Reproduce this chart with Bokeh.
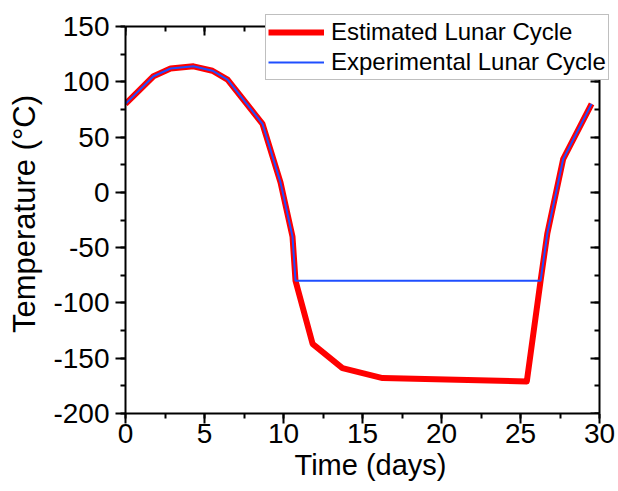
from bokeh.plotting import figure
from bokeh.models import (Range1d, LinearAxis, SingleIntervalTicker, Legend, LegendItem,
                          PrintfTickFormatter, CustomLabelingPolicy)
from bokeh.embed import file_html
from bokeh.resources import INLINE

# Data
est_time = [0, 1.77, 2.85, 4.3, 5.5, 6.46, 8.67, 9.81, 10.57, 10.76, 11.84, 13.73, 16.27, 25.4, 26.27, 26.7, 27.7, 29.5]
est_temp = [80, 105, 112, 114, 110, 102, 62, 9, -40, -80, -137, -159, -168, -171, -80, -37, 30, 80]
exp_time = [0, 1.77, 2.85, 4.3, 5.5, 6.46, 8.67, 9.81, 10.57, 10.76, 26.27, 26.7, 27.7, 29.5]
exp_temp = [80, 105, 112, 114, 110, 102, 62, 9, -40, -80, -80, -37, 30, 80]
series_names = ["Estimated Lunar Cycle", "Experimental Lunar Cycle"]
x_lo, x_hi = 0, 30
y_lo, y_hi = -200, 150

FONT = "Liberation Sans"

# frame is a little larger than the axes box so the legend may overhang it
x_end = x_hi * 490 / 474
y_end = y_lo + (y_hi - y_lo) * 399 / 387

p = figure(width=618, height=491, output_backend="svg", toolbar_location=None,
           x_range=Range1d(x_lo, x_end), y_range=Range1d(y_lo, y_end),
           min_border_left=125, min_border_right=3, min_border_top=14, min_border_bottom=78,
           x_axis_label="Time (days)", y_axis_label="Temperature (°C)")
p.xgrid.visible = False
p.ygrid.visible = False
p.outline_line_color = None
p.background_fill_color = "white"
p.border_fill_color = "white"

xt = SingleIntervalTicker(interval=5, num_minor_ticks=2)
yt = SingleIntervalTicker(interval=50, num_minor_ticks=2)

def style(ax):
    ax.axis_line_width = 2
    ax.axis_line_color = "black"
    ax.major_tick_line_width = 2
    ax.minor_tick_line_width = 2
    ax.major_tick_line_color = "black"
    ax.minor_tick_line_color = "black"
    ax.major_label_text_font = FONT
    ax.major_label_text_font_size = "28px"
    ax.major_label_text_color = "black"
    ax.axis_label_text_font = FONT
    ax.axis_label_text_font_style = "normal"
    ax.axis_label_text_color = "black"
    ax.formatter = PrintfTickFormatter(format="%d")

xa = p.xaxis[0]
xa.ticker = xt
xa.bounds = (x_lo, x_hi)
style(xa)
xa.axis_label_text_font_size = "29px"
xa.major_tick_out = 10
xa.major_tick_in = 0
xa.minor_tick_out = 5
xa.minor_tick_in = 0
xa.major_label_standoff = 0
xa.axis_label_standoff = 3

ya = p.yaxis[0]
ya.ticker = yt
ya.bounds = (y_lo, y_hi)
style(ya)
ya.axis_label_text_font_size = "31px"
ya.major_tick_out = 10
ya.major_tick_in = 0
ya.minor_tick_out = 5
ya.minor_tick_in = 0
ya.major_label_standoff = 6
ya.axis_label_standoff = 8

top = LinearAxis(ticker=xt, bounds=(x_lo, x_hi), fixed_location=y_hi,
                 major_tick_in=9, major_tick_out=0,
                 minor_tick_in=5, minor_tick_out=0, major_label_standoff=0)
style(top)
top.major_label_text_font_size = "1px"
top.major_label_policy = CustomLabelingPolicy(code="return new Set()")
right = LinearAxis(ticker=yt, bounds=(y_lo, y_hi), fixed_location=x_hi,
                   major_tick_in=9, major_tick_out=0,
                   minor_tick_in=5, minor_tick_out=0, major_label_standoff=0)
style(right)
right.major_label_text_font_size = "1px"
right.major_label_policy = CustomLabelingPolicy(code="return new Set()")
p.add_layout(top, "above")
p.add_layout(right, "right")

r_est = p.line(est_time, est_temp, line_color="#ff0000", line_width=6, line_join="round")
r_exp = p.line(exp_time, exp_temp, line_color="#1f4fff", line_width=2)

legend = Legend(items=[LegendItem(label=series_names[0], renderers=[r_est]),
                       LegendItem(label=series_names[1], renderers=[r_exp])],
                location=(140, 333), margin=0, padding=2, spacing=0,
                glyph_width=56, glyph_height=30, label_height=30, label_standoff=7,
                label_text_font=FONT, label_text_font_size="24px", label_text_color="black",
                border_line_color="#808080", border_line_width=1,
                background_fill_color="white", background_fill_alpha=1)
p.add_layout(legend, "center")

open("out.html", "w").write(file_html(p, INLINE))
